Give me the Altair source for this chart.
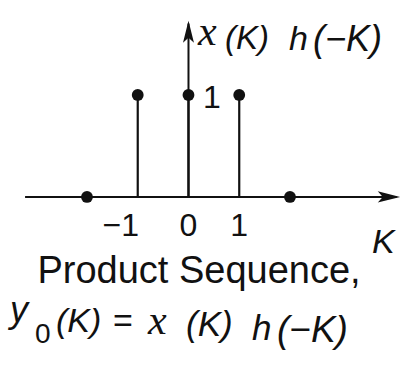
import altair as alt
import pandas as pd

# Product sequence y0(K) = x(K) h(-K)
k_values = [-2, -1, 0, 1, 2]
y_values = [0, 1, 1, 1, 0]
tick_k = [-1, 0, 1]
tick_text = ["\u22121", "0", "1"]

INK = "#111111"
SANS = "Liberation Sans"
SERIF = "Liberation Serif"

seq = pd.DataFrame({"K": k_values, "y": y_values})

xs = alt.Scale(domain=[-3.714, 4.345], nice=False, zero=False)
ys = alt.Scale(domain=[-1.736, 1.931], nice=False, zero=False)

one = alt.Data(values=[{"o": 0}])

# stems
stems = (
    alt.Chart(seq)
    .transform_filter("datum.y != 0")
    .transform_calculate(base="0")
    .mark_rule(color=INK, strokeWidth=2.2)
    .encode(
        x=alt.X("K:Q", scale=xs, axis=None),
        y=alt.Y("base:Q", scale=ys, axis=None),
        y2="y:Q",
    )
)

dots = (
    alt.Chart(seq)
    .mark_circle(color=INK, size=140, opacity=1)
    .encode(x=alt.X("K:Q", scale=xs, axis=None), y=alt.Y("y:Q", scale=ys, axis=None))
)

# horizontal axis with arrow
h_axis = (
    alt.Chart(one)
    .mark_rule(color=INK, strokeWidth=2)
    .encode(
        x=alt.X(datum=-3.22, scale=xs, axis=None),
        x2=alt.X2(datum=4.10),
        y=alt.Y(datum=0, scale=ys, axis=None),
    )
)
h_arrow = (
    alt.Chart(one)
    .mark_point(
        shape="M1,0 L-1,-0.5 L-0.55,0 L-1,0.5 Z",
        filled=True, color=INK, opacity=1, size=500, strokeWidth=0,
    )
    .encode(
        x=alt.X(datum=3.95, scale=xs, axis=None),
        y=alt.Y(datum=0, scale=ys, axis=None),
    )
)

# vertical axis with arrow
v_axis = (
    alt.Chart(one)
    .mark_rule(color=INK, strokeWidth=2)
    .encode(
        x=alt.X(datum=0, scale=xs, axis=None),
        y=alt.Y(datum=0, scale=ys, axis=None),
        y2=alt.Y2(datum=1.70),
    )
)
v_arrow = (
    alt.Chart(one)
    .mark_point(
        shape="M0,-1 L-0.5,1 L0,0.55 L0.5,1 Z",
        filled=True, color=INK, opacity=1, size=480, strokeWidth=0,
    )
    .encode(
        x=alt.X(datum=0, scale=xs, axis=None),
        y=alt.Y(datum=1.62, scale=ys, axis=None),
    )
)

layers = [h_axis, v_axis, h_arrow, v_arrow, stems, dots]

# tick labels under the K axis
for k, t in zip(tick_k, tick_text):
    layers.append(
        alt.Chart(one)
        .mark_text(
            text=t, font=SANS, fontSize=32, color=INK,
            align="center", baseline="alphabetic", dx=-17 if k < 0 else 0,
        )
        .encode(x=alt.X(datum=k, scale=xs, axis=None), y=alt.value(236))
    )


def label(text, x, y, size, font=SANS, style="normal", align="left"):
    return (
        alt.Chart(one)
        .mark_text(
            text=text, font=font, fontSize=size, fontStyle=style,
            color=INK, align=align, baseline="alphabetic",
        )
        .encode(x=alt.value(x), y=alt.value(y))
    )


layers += [
    # amplitude marker
    label("1", 203, 108, 32),
    # vertical axis title: x(K) h(-K)
    label("x", 198, 45, 42, font=SERIF, style="italic"),
    label("(K)", 225, 49, 33, style="italic"),
    label("h", 289, 50, 34, style="italic"),
    label("(\u2212K)", 313, 51, 36, style="italic"),
    # horizontal axis title
    label("K", 372, 253, 34, style="italic"),
    # caption
    label("Product Sequence,", 199, 283, 38, align="center"),
    label("y", 10, 322, 36, style="italic"),
    label("0", 35, 343, 28),
    label("(K)", 56, 332, 34, style="italic"),
    label("=", 113, 332, 34),
    label("x", 148, 334, 42, font=SERIF, style="italic"),
    label("(K)", 186, 336, 35, style="italic"),
    label("h", 252, 340, 35, style="italic"),
    label("(\u2212K)", 277, 342, 37, style="italic"),
]

chart = (
    alt.layer(*layers)
    .properties(
        width=409,
        height=374,
        padding=0,
        autosize=alt.AutoSizeParams(type="fit", contains="padding"),
        background="white",
    )
    .configure_view(stroke=None)
)

chart.save("out.html", embed_options={"renderer": "svg", "actions": False})
